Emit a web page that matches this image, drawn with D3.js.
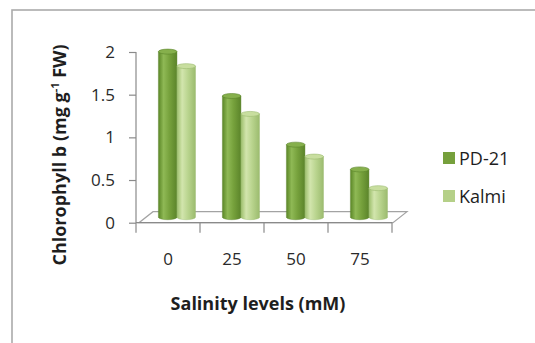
<!DOCTYPE html>
<html>
<head>
<meta charset="utf-8">
<script src="https://cdn.jsdelivr.net/npm/d3@7"></script>
<style>
  html, body { margin: 0; padding: 0; background: #fff; }
  svg { display: block; }
  text { font-family: "Open Sans", "DejaVu Sans", sans-serif; }
</style>
</head>
<body>
<svg id="chart" width="535" height="343"></svg>
<script>
// Chlorophyll b content of two rice genotypes under salinity stress
const categories = ["0", "25", "50", "75"];
const seriesNames = ["PD-21", "Kalmi"];
const pd21Values = [1.94, 1.42, 0.85, 0.56];
const kalmiValues = [1.77, 1.21, 0.71, 0.34];
const yTickValues = [0, 0.5, 1, 1.5, 2];
const yTitle = "Chlorophyll b (mg g";
const yTitleSup = "-1";
const yTitleEnd = " FW)";
const xTitle = "Salinity levels (mM)";

const seriesData = [pd21Values, kalmiValues];

// cylinder shading: [left edge, highlight, body, right edge, cap]
const palettes = {
  "PD-21": ["#5a8626", "#8fb955", "#76a13c", "#5b842a", "#86b04c"],
  "Kalmi": ["#9dbf6c", "#d2e5ad", "#b9d48e", "#9bbb6e", "#c8de9f"]
};
const legendColors = { "PD-21": "#76a03c", "Kalmi": "#b5d088" };

const svg = d3.select("#chart");

// outer chart frame (runs off the right and bottom edges)
svg.append("rect")
  .attr("x", 12).attr("y", 10)
  .attr("width", 600).attr("height", 400)
  .attr("fill", "none")
  .attr("stroke", "#ababab")
  .attr("stroke-width", 1.6);

const y = d3.scaleLinear().domain([0, 2]).range([222.7, 52]);
const x = d3.scaleBand().domain(categories).range([136, 392]);
const barW = x.bandwidth() * 0.29;
const clusterOffset = x.bandwidth() * 0.35;
const xs = d3.scaleBand().domain(seriesNames).range([0, 2 * barW]);

// oblique depth of the 3-D floor
const depthX = 14, depthY = 11;
const barLift = depthY / 2;
const capRy = 2.5;

// gradients for the cylinders
const defs = svg.append("defs");
seriesNames.forEach((s, i) => {
  const p = palettes[s];
  const g = defs.append("linearGradient").attr("id", "grad" + i)
    .attr("x1", 0).attr("x2", 1).attr("y1", 0).attr("y2", 0);
  [[0, p[0]], [0.28, p[1]], [0.6, p[2]], [1, p[3]]].forEach(([o, c]) =>
    g.append("stop").attr("offset", o).attr("stop-color", c));
});

// floor plate
const y0 = y(0);
const [xr0, xr1] = x.range();
const floor = [
  [xr0 + 3, y0], [xr1 + 1, y0],
  [xr1 + 1 + depthX, y0 - depthY], [xr0 + 3 + depthX, y0 - depthY]
];
svg.append("polygon")
  .attr("points", floor.map(p => p.join(",")).join(" "))
  .attr("fill", "#ffffff")
  .attr("stroke", "#a3a3a3")
  .attr("stroke-width", 1.2);

// value axis
const yAxis = d3.axisLeft(y).tickValues(yTickValues).tickSize(7).tickPadding(14)
  .tickFormat(d3.format("~g"));
const gy = svg.append("g").attr("transform", `translate(${xr0},0)`).call(yAxis);
gy.select(".domain").remove();
gy.selectAll(".tick line").attr("stroke", "#8a8a8a").attr("stroke-width", 1.2);
gy.selectAll(".tick text")
  .attr("fill", "#2a2a2a")
  .style("font-size", "17px");
svg.append("line")
  .attr("x1", xr0).attr("x2", xr0)
  .attr("y1", y(2)).attr("y2", y0 + 10)
  .attr("stroke", "#8a8a8a").attr("stroke-width", 1.2);

// category axis
svg.append("line")
  .attr("x1", xr0).attr("x2", xr1)
  .attr("y1", y0).attr("y2", y0)
  .attr("stroke", "#8a8a8a").attr("stroke-width", 1.2);
const boundaries = categories.map(c => x(c) + x.bandwidth());
svg.selectAll(".xtick").data(boundaries).enter().append("line")
  .attr("x1", d => d).attr("x2", d => d)
  .attr("y1", y0).attr("y2", y0 + 10)
  .attr("stroke", "#8a8a8a").attr("stroke-width", 1.2);
svg.selectAll(".xlabel").data(categories).enter().append("text")
  .attr("x", d => x(d) + x.bandwidth() / 2)
  .attr("y", y0 + 42)
  .attr("text-anchor", "middle")
  .attr("fill", "#2a2a2a")
  .style("font-size", "17px")
  .text(d => d);

// cylinders
function cylinderBody(left, w, top, base) {
  const rx = w / 2;
  return `M${left},${top} L${left},${base} A${rx},${capRy} 0 0 0 ${left + w},${base} L${left + w},${top} Z`;
}
seriesNames.forEach((s, si) => {
  const g = svg.append("g");
  const rows = categories.map((c, ci) => ({ c, v: seriesData[si][ci] }));
  const left = d => x(d.c) + clusterOffset + xs(s);
  const top = d => y(d.v) - barLift;
  const base = y0 - barLift;
  g.selectAll("path").data(rows).enter().append("path")
    .attr("d", d => cylinderBody(left(d), barW, top(d), base))
    .attr("fill", `url(#grad${si})`)
    .attr("stroke", palettes[s][3])
    .attr("stroke-width", 0.4);
  g.selectAll("ellipse").data(rows).enter().append("ellipse")
    .attr("cx", d => left(d) + barW / 2)
    .attr("cy", d => top(d))
    .attr("rx", barW / 2)
    .attr("ry", capRy)
    .attr("fill", palettes[s][4])
    .attr("stroke", palettes[s][3])
    .attr("stroke-width", 0.6);
});

// axis titles
svg.append("text")
  .attr("transform", "translate(66,155) rotate(-90)")
  .attr("text-anchor", "middle")
  .attr("fill", "#1e1e1e")
  .style("font-size", "18px")
  .style("font-weight", "bold")
  .call(t => {
    t.append("tspan").text(yTitle);
    t.append("tspan").attr("baseline-shift", "super").style("font-size", "11px").text(yTitleSup);
    t.append("tspan").text(yTitleEnd);
  });

svg.append("text")
  .attr("x", 258).attr("y", 310)
  .attr("text-anchor", "middle")
  .attr("fill", "#1e1e1e")
  .style("font-size", "18px")
  .style("font-weight", "bold")
  .text(xTitle);

// legend
const legend = svg.append("g").attr("transform", "translate(443,152)");
seriesNames.forEach((s, i) => {
  const row = legend.append("g").attr("transform", `translate(0,${i * 38})`);
  row.append("rect").attr("width", 12).attr("height", 12).attr("fill", legendColors[s]);
  row.append("text").attr("x", 16).attr("y", 12.5)
    .attr("fill", "#1e1e1e")
    .style("font-size", "18px")
    .text(s);
});
</script>
</body>
</html>
